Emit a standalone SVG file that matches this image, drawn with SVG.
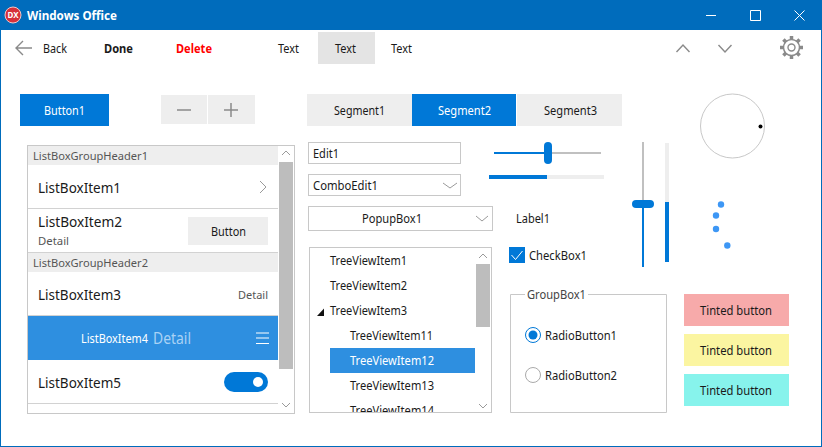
<svg xmlns="http://www.w3.org/2000/svg" width="822" height="447" viewBox="0 0 822 447">
<defs>
<style>
text{font-family:"Noto Sans","Open Sans","Liberation Sans",sans-serif;font-size:12px;fill:#1a1a1a}
.lg{font-size:14.5px}
.sm{font-size:11.5px;fill:#555}
.w{fill:#fff}
.ln{fill:none;stroke:#c8c8c8;stroke-width:1}
.ch{fill:none;stroke:#9a9a9a;stroke-width:1}
.tb{fill:none;stroke:#8a8a8a;stroke-width:1.4}
.sep{stroke:#d2d2d2;stroke-width:1}
.sb{fill:#bdbdbd}
.blue{fill:#0078d7}
.gray{fill:#eeeeee}
.sel{fill:#2e8fe0}
.dot{fill:#3d97f5}
</style>
<clipPath id="treeClip"><rect x="310" y="248" width="181" height="164"/></clipPath>
</defs>
<rect width="822" height="447" fill="#fff"/>
<g id="window">
<rect x="0.5" y="0.5" width="821" height="446" fill="none" stroke="#006cbc"/>
<rect width="822" height="30" fill="#006cbc"/>
<circle cx="13" cy="15" r="8" fill="#d6303a" stroke="#f0c8c8" stroke-width="1"/>
<text x="7.500" y="18" style="font-size:8px;font-weight:700" class="w" textLength="11" lengthAdjust="spacingAndGlyphs">DX</text>
<text x="27" y="20" class="w" style="font-weight:700" textLength="90" lengthAdjust="spacingAndGlyphs">Windows Office</text>
<path d="M706 15.5H716M750.5 10.500H760.500V20.500H750.500ZM794.500 10.500L804.500 20.500M804.500 10.500L794.500 20.500" fill="none" stroke="#fff" stroke-width="1"/>
</g>
<g id="toolbar">
<path class="tb" d="M32 48H16M23 41L16 48L23 55"/>
<text x="43" y="53" textLength="24" lengthAdjust="spacingAndGlyphs">Back</text>
<text x="104" y="53" style="font-weight:700" textLength="29" lengthAdjust="spacingAndGlyphs">Done</text>
<text x="176" y="53" style="font-weight:700;fill:#f00" textLength="36" lengthAdjust="spacingAndGlyphs">Delete</text>
<text x="278" y="53" textLength="21" lengthAdjust="spacingAndGlyphs">Text</text>
<rect x="318" y="32" width="57" height="32" fill="#e4e4e4"/>
<text x="335" y="53" textLength="21" lengthAdjust="spacingAndGlyphs">Text</text>
<text x="391" y="53" textLength="21" lengthAdjust="spacingAndGlyphs">Text</text>
<path class="tb" d="M676.500 52L683 45L689.500 52M718.500 45L725 52L731.500 45"/>
<g id="gear" transform="translate(791.500 47.500)">
<circle r="8" fill="none" stroke="#8a8a8a" stroke-width="1.500"/>
<circle r="3.500" fill="none" stroke="#8a8a8a" stroke-width="1.400"/>
<path d="M0-11.500V-8M0 11.500V8M-11.500 0H-8M11.500 0H8M-8.100-8.100L-5.600-5.600M8.100 8.100L5.600 5.600M-8.100 8.100L-5.600 5.600M8.100-8.100L5.600-5.600" stroke="#8a8a8a" stroke-width="3.500" fill="none"/>
</g>
</g>
<g id="button1"><rect class="blue" x="20" y="94" width="89" height="32"/><text class="w" x="44" y="115" textLength="41" lengthAdjust="spacingAndGlyphs">Button1</text></g>
<g id="stepper">
<rect class="gray" x="161" y="95" width="46" height="29"/><rect class="gray" x="208" y="95" width="47" height="29"/>
<path d="M177 110H191M224 110H238M231 103V117" stroke="#8a8a8a" stroke-width="1.500" fill="none"/>
</g>
<g id="segments">
<rect class="gray" x="307" y="94" width="105" height="32"/><text x="334" y="115" textLength="51" lengthAdjust="spacingAndGlyphs">Segment1</text>
<rect class="blue" x="412" y="94" width="104" height="32"/><text class="w" x="438" y="115" textLength="53" lengthAdjust="spacingAndGlyphs">Segment2</text>
<rect class="gray" x="517" y="94" width="105" height="32"/><text x="544" y="115" textLength="53" lengthAdjust="spacingAndGlyphs">Segment3</text>
</g>
<g id="listbox">
<rect class="ln" x="27.500" y="145.500" width="267" height="268"/>
<rect class="gray" x="28" y="146" width="250" height="19"/>
<text class="sm" x="33" y="160" textLength="115" lengthAdjust="spacingAndGlyphs">ListBoxGroupHeader1</text>
<text class="lg" x="38" y="193" textLength="83" lengthAdjust="spacingAndGlyphs">ListBoxItem1</text>
<path class="ch" d="M260 181L266 187L260 193"/>
<path class="sep" d="M28 208.500H278"/>
<text class="lg" x="38" y="227" textLength="84" lengthAdjust="spacingAndGlyphs">ListBoxItem2</text>
<text class="sm" x="38" y="245" textLength="31" lengthAdjust="spacingAndGlyphs">Detail</text>
<rect class="gray" x="188" y="217" width="80" height="28"/>
<text x="211" y="236" textLength="35" lengthAdjust="spacingAndGlyphs">Button</text>
<path class="sep" d="M28 252.500H278"/>
<rect class="gray" x="28" y="253" width="250" height="19"/>
<text class="sm" x="33" y="267" textLength="115" lengthAdjust="spacingAndGlyphs">ListBoxGroupHeader2</text>
<text class="lg" x="38" y="300" textLength="83" lengthAdjust="spacingAndGlyphs">ListBoxItem3</text>
<text class="sm" x="238" y="299" textLength="30" lengthAdjust="spacingAndGlyphs">Detail</text>
<path class="sep" d="M28 315.500H278"/>
<rect class="sel" x="28" y="316" width="250" height="44"/>
<text class="w" x="81" y="343" textLength="67" lengthAdjust="spacingAndGlyphs">ListBoxItem4</text>
<text x="153" y="344" style="font-size:15.500px;fill:#a9d2f5" textLength="38" lengthAdjust="spacingAndGlyphs">Detail</text>
<path d="M256 333H269M256 338H269M256 343.500H269" stroke="#fff" stroke-width="1" fill="none"/>
<text class="lg" x="38" y="388" textLength="83" lengthAdjust="spacingAndGlyphs">ListBoxItem5</text>
<rect class="blue" x="224" y="372" width="44" height="20" rx="10"/>
<circle cx="258" cy="382" r="5" fill="#fff"/>
<path class="sep" d="M28 403.500H278"/>
<rect class="sb" x="279" y="162" width="14" height="207"/>
<path class="ch" d="M282 155L286 151L290 155M282 403L286 407L290 403"/>
</g>
<g id="edit1"><rect class="ln" x="308.500" y="142.500" width="152" height="21"/><text x="313" y="158" textLength="26" lengthAdjust="spacingAndGlyphs">Edit1</text></g>
<g id="combo"><rect class="ln" x="308.500" y="174.500" width="152" height="21"/><text x="313" y="190" textLength="65" lengthAdjust="spacingAndGlyphs">ComboEdit1</text><path class="ch" d="M443 183L450 188L457 183"/></g>
<g id="popup"><rect class="ln" x="308.500" y="206.500" width="184" height="24"/><text x="362" y="223" textLength="60" lengthAdjust="spacingAndGlyphs">PopupBox1</text><path class="ch" d="M476 216L482 221L488 216"/></g>
<g id="tree">
<rect class="ln" x="309.500" y="247.500" width="182" height="165"/>
<rect class="sb" x="476" y="264" width="14" height="63"/>
<path class="ch" d="M479 258L483 254L487 258M479 404L483 408L487 404"/>
<rect class="sel" x="330" y="348" width="145" height="25"/>
<path d="M324 308.500V316H317Z" fill="#111"/>
<g clip-path="url(#treeClip)">
<text x="330" y="265" textLength="77" lengthAdjust="spacingAndGlyphs">TreeViewItem1</text>
<text x="330" y="290" textLength="77" lengthAdjust="spacingAndGlyphs">TreeViewItem2</text>
<text x="330" y="315" textLength="77" lengthAdjust="spacingAndGlyphs">TreeViewItem3</text>
<text x="350" y="340" textLength="83" lengthAdjust="spacingAndGlyphs">TreeViewItem11</text>
<text class="w" x="350" y="365" textLength="84" lengthAdjust="spacingAndGlyphs">TreeViewItem12</text>
<text x="350" y="390" textLength="84" lengthAdjust="spacingAndGlyphs">TreeViewItem13</text>
<text x="350" y="415" textLength="84" lengthAdjust="spacingAndGlyphs">TreeViewItem14</text>
</g>
</g>
<g id="slider-h">
<rect x="494" y="152" width="107" height="2" fill="#c0c0c0"/><rect class="blue" x="494" y="152" width="52" height="2"/>
<rect class="blue" x="544" y="142" width="8" height="22" rx="4"/>
</g>
<g id="progress-h"><rect class="gray" x="489" y="175" width="115" height="4"/><rect class="blue" x="489" y="175" width="58" height="4"/></g>
<g id="label1"><text x="516" y="223" textLength="34" lengthAdjust="spacingAndGlyphs">Label1</text></g>
<g id="checkbox1">
<rect class="blue" x="509" y="247" width="16" height="16"/>
<path d="M511.500 255L515.500 259.500L522.500 251" fill="none" stroke="#fff" stroke-width="1"/>
<text x="529" y="260" textLength="58" lengthAdjust="spacingAndGlyphs">CheckBox1</text>
</g>
<g id="slider-v">
<rect x="642" y="142" width="2" height="125" fill="#c0c0c0"/><rect class="blue" x="642" y="204" width="2" height="63"/>
<rect class="blue" x="632" y="200" width="22" height="8" rx="4"/>
</g>
<g id="progress-v"><rect class="gray" x="665" y="143" width="4" height="119"/><rect class="blue" x="665" y="202" width="4" height="60"/></g>
<g id="arc-dial"><circle cx="732.500" cy="126" r="32" fill="none" stroke="#c8c8c8"/><circle cx="760.500" cy="126.500" r="2" fill="#000"/></g>
<g id="dots">
<circle class="dot" cx="721" cy="204.500" r="3.200"/><circle class="dot" cx="716" cy="215.500" r="3.200"/><circle class="dot" cx="716" cy="229" r="3.200"/><circle class="dot" cx="727.300" cy="245.500" r="3.200"/>
</g>
<g id="groupbox">
<path class="ln" d="M525 294.500H510.500V412.500H666.500V294.500H588"/>
<text x="527" y="299" style="fill:#444" textLength="59" lengthAdjust="spacingAndGlyphs">GroupBox1</text>
<circle cx="533" cy="335" r="7.500" fill="#fff" stroke="#0078d7"/><circle class="blue" cx="533" cy="335" r="4.500"/>
<text x="545" y="340" textLength="72" lengthAdjust="spacingAndGlyphs">RadioButton1</text>
<circle cx="533" cy="375" r="7.500" fill="#fff" stroke="#aaa"/>
<text x="545" y="380" textLength="72" lengthAdjust="spacingAndGlyphs">RadioButton2</text>
</g>
<g id="tinted1"><rect x="684" y="294" width="105" height="32" fill="#f7aaaa"/><text x="700" y="315" textLength="72" lengthAdjust="spacingAndGlyphs">Tinted button</text></g>
<g id="tinted2"><rect x="684" y="334" width="105" height="32" fill="#fbf5a1"/><text x="700" y="355" textLength="72" lengthAdjust="spacingAndGlyphs">Tinted button</text></g>
<g id="tinted3"><rect x="684" y="374" width="105" height="32" fill="#87f3ec"/><text x="700" y="395" textLength="72" lengthAdjust="spacingAndGlyphs">Tinted button</text></g>
</svg>
